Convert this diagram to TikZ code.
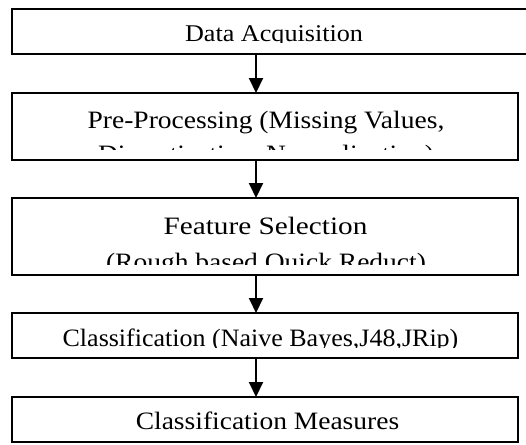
\documentclass[tikz,border=0pt]{standalone}
\usepackage{fontspec}
\setmainfont{Liberation Serif}
\newfontfamily\cambria[FakeStretch=1.1]{Liberation Serif}
\newfontfamily\cambriaN[FakeStretch=1.04]{Liberation Serif}
\newfontfamily\cambriaF[FakeStretch=1.17]{Liberation Serif}
\newfontfamily\timesw[FakeStretch=1.09]{Liberation Serif}
\usetikzlibrary{arrows.meta}
\begin{document}
\begin{tikzpicture}[x=1pt,y=-1pt,
  stagebox/.style={draw=black,line width=2pt,fill=white},
  flow/.style={line width=2pt,-{Triangle[length=15pt,width=14pt]}},
  txt/.style={inner sep=0pt,anchor=base},
  ctxt/.style={txt,font=\cambria\fontsize{25}{25}\selectfont}]
\useasboundingbox (0,0) rectangle (526,444);
\clip (0,0) rectangle (526,444);
% boxes
\path[stagebox] (12,9) rectangle (535,54);
\coordinate (b1t) at (256,9); \coordinate (b1b) at (256,54);
\path[stagebox] (12,93) rectangle (518,160);
\coordinate (b2t) at (256,93); \coordinate (b2b) at (256,160);
\path[stagebox] (12,198) rectangle (518,275);
\coordinate (b3t) at (256,198); \coordinate (b3b) at (256,275);
\path[stagebox] (12,313) rectangle (518,357.5);
\coordinate (b4t) at (256,313); \coordinate (b4b) at (256,357.5);
\path[stagebox] (12,397) rectangle (518,442);
\coordinate (b5t) at (256,397);
% texts
\begin{scope}
\clip (14,11) rectangle (516,42.8);
\node[txt,font=\timesw\fontsize{24}{24}\selectfont] (t1) at (274,41.7) {Data Acquisition};
\end{scope}
\begin{scope}
\clip (14,95) rectangle (516,149.5);
\node[ctxt] (t2a) at (266,128) {Pre-Processing (Missing Values,};
\node[ctxt] (t2b) at (266,162.5) {Discretization, Normalization)};
\end{scope}
\node[ctxt,font=\cambriaF\fontsize{25}{25}\selectfont] (t3a) at (265.5,234) {Feature Selection};
\begin{scope}
\clip (14,240) rectangle (516,264.5);
\node[ctxt] (t3b) at (266,270) {(Rough based Quick Reduct)};
\end{scope}
\begin{scope}
\clip (14,315) rectangle (516,347.8);
\node[ctxt,font=\cambriaN\fontsize{25}{25}\selectfont] (t4) at (260.5,346.7) {Classification (Naive Bayes,J48,JRip)};
\end{scope}
\node[ctxt] (t5) at (267.5,429) {Classification Measures};
% connectors
\draw[flow] (b1b) -- (b2t);
\draw[flow] (b2b) -- (b3t);
\draw[flow] (b3b) -- (b4t);
\draw[flow] (b4b) -- (b5t);
\end{tikzpicture}
\end{document}
